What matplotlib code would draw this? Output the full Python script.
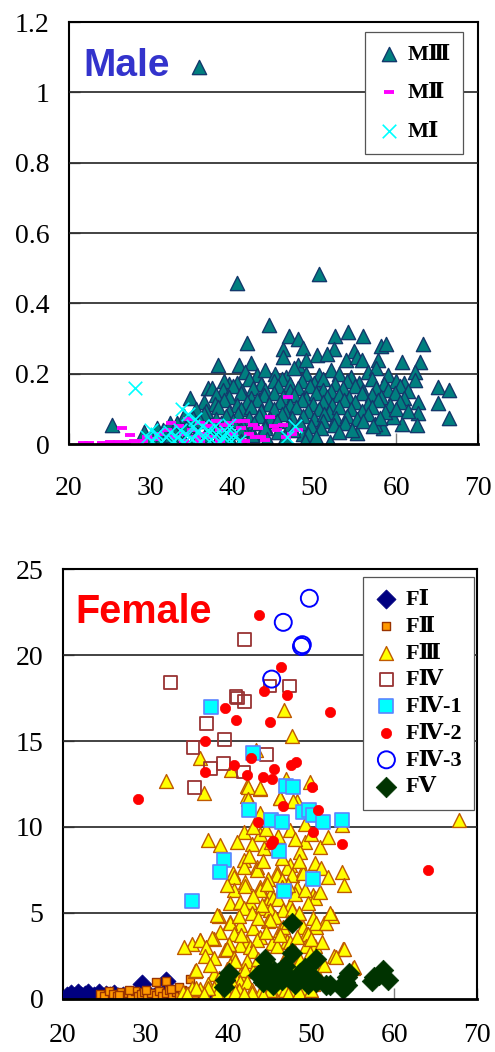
import matplotlib
matplotlib.use('Agg')
from matplotlib import pyplot as plt

# ------------------------------
# Data (age, value)
# ------------------------------

mIII_age = [35.9, 40.5, 50.6, 44.5, 41.7, 38.2, 40.8, 42.3, 46.1, 46.9, 48.0, 48.6, 52.5, 54.1, 56.0, 52.4, 54.9, 58.2, 58.8, 63.3,
            46.1, 50.3, 51.5, 53.9, 55.2, 55.8, 57.8, 60.7, 62.9, 48.0, 49.0, 62.3, 62.3, 65.1, 66.5, 65.1, 66.4, 62.7, 62.7, 62.5,
            60.7, 59.6, 58.4, 57.4, 55.2, 51.9, 48.6, 34.8, 37.0, 39.5, 25.3, 29.2, 30.7, 32.3,
            41.5, 43.0, 44.0, 45.2, 46.5, 47.5, 49.0, 50.5, 52.0, 53.0, 54.5, 56.5, 57.5, 59.0,
            39.0, 40.5, 42.0, 43.5, 45.0, 46.0, 47.0, 48.5, 50.0, 51.0, 52.5, 54.0, 55.5, 57.0, 58.5, 60.0, 61.0,
            37.5, 38.8, 40.0, 41.2, 42.5, 44.0, 45.5, 47.0, 48.0, 49.5, 51.0, 52.0, 53.5, 55.0, 56.0, 57.5, 59.0, 60.5, 61.5,
            38.0, 39.5, 41.0, 42.3, 43.8, 45.0, 46.2, 47.5, 49.0, 50.2, 51.5, 53.0, 54.2, 55.8, 57.0, 58.2, 59.8, 61.0,
            36.5, 37.8, 39.0, 40.5, 41.8, 43.0, 44.5, 45.8, 47.0, 48.5, 49.8, 51.0, 52.2, 53.6, 55.0, 56.5, 57.8, 59.2, 60.5,
            35.5, 36.8, 38.2, 39.5, 41.0, 42.2, 43.5, 45.0, 46.4, 47.8, 49.2, 50.5, 51.8, 53.0, 54.5, 55.8, 57.0, 58.6, 60.0, 61.4,
            34.0, 35.2, 36.5, 38.0, 39.2, 40.6, 42.0, 43.2, 44.6, 46.0, 47.2, 48.6, 50.0, 51.2, 52.6, 54.0, 55.2, 56.5, 58.0,
            33.2, 34.5, 36.0, 37.2, 38.6, 40.0, 41.2, 42.6, 44.0, 45.4, 47.0, 48.2, 49.6, 51.0, 52.4, 53.8, 56.0, 57.2,
            31.5, 33.0, 34.2, 35.6, 37.0, 38.4, 39.8, 41.0, 42.5, 44.0, 45.6, 47.4, 49.2, 50.8, 53.0, 54.6,
            30.0, 31.2, 32.5, 34.0, 35.4, 36.8, 38.2, 39.6, 41.0, 42.4, 44.2, 46.4, 48.8, 50.2]
mIII_val = [1.073, 0.459, 0.483, 0.338, 0.286, 0.225, 0.225, 0.230, 0.270, 0.307, 0.300, 0.272, 0.307, 0.318, 0.307, 0.270, 0.265, 0.280, 0.285, 0.285,
            0.248, 0.253, 0.257, 0.239, 0.248, 0.239, 0.239, 0.234, 0.234, 0.225, 0.240, 0.206, 0.182, 0.163, 0.154, 0.117, 0.073, 0.120, 0.087, 0.054,
            0.057, 0.078, 0.045, 0.057, 0.032, 0.007, 0.030, 0.130, 0.160, 0.170, 0.055, 0.035, 0.045, 0.060,
            0.205, 0.195, 0.210, 0.200, 0.190, 0.215, 0.200, 0.195, 0.210, 0.200, 0.190, 0.205, 0.215, 0.195,
            0.180, 0.175, 0.185, 0.170, 0.180, 0.185, 0.170, 0.180, 0.175, 0.185, 0.170, 0.180, 0.175, 0.185, 0.170, 0.180, 0.175,
            0.160, 0.155, 0.165, 0.150, 0.160, 0.155, 0.165, 0.150, 0.160, 0.165, 0.155, 0.150, 0.160, 0.165, 0.150, 0.160, 0.155, 0.165, 0.150,
            0.140, 0.135, 0.145, 0.130, 0.140, 0.145, 0.135, 0.140, 0.130, 0.145, 0.135, 0.140, 0.130, 0.145, 0.140, 0.135, 0.145, 0.130,
            0.120, 0.115, 0.125, 0.110, 0.120, 0.125, 0.115, 0.120, 0.110, 0.125, 0.115, 0.120, 0.110, 0.125, 0.120, 0.115, 0.125, 0.110, 0.120,
            0.100, 0.095, 0.105, 0.090, 0.100, 0.105, 0.095, 0.100, 0.090, 0.105, 0.095, 0.100, 0.090, 0.105, 0.100, 0.095, 0.105, 0.090, 0.100, 0.095,
            0.080, 0.075, 0.085, 0.070, 0.080, 0.085, 0.075, 0.080, 0.070, 0.085, 0.075, 0.080, 0.070, 0.085, 0.075, 0.080, 0.070, 0.085, 0.075,
            0.060, 0.055, 0.065, 0.050, 0.060, 0.065, 0.055, 0.060, 0.050, 0.065, 0.055, 0.060, 0.050, 0.065, 0.055, 0.060, 0.065, 0.050,
            0.040, 0.035, 0.045, 0.030, 0.040, 0.045, 0.035, 0.040, 0.030, 0.045, 0.035, 0.040, 0.030, 0.045, 0.035, 0.040,
            0.020, 0.015, 0.025, 0.010, 0.020, 0.025, 0.015, 0.020, 0.010, 0.025, 0.015, 0.020, 0.010, 0.020]

mII_age = [21.7, 22.5, 24.0, 25.0, 26.0, 27.0, 28.0, 29.0, 26.5, 27.5, 29.5, 30.5, 31.0, 32.0, 32.5, 33.0, 33.5, 34.0, 34.5, 35.0,
           35.5, 36.0, 36.5, 37.0, 37.5, 38.0, 38.5, 39.0, 39.5, 40.0, 40.5, 41.0, 41.5, 42.0, 42.5, 43.1, 43.5, 44.6, 45.0, 45.4,
           46.2, 46.5, 46.8, 47.2, 48.0, 44.0, 42.7, 41.5, 38.5, 36.0, 34.0]
mII_val = [0.003, 0.003, 0.003, 0.005, 0.006, 0.007, 0.008, 0.010, 0.045, 0.025, 0.020, 0.015, 0.030, 0.040, 0.060, 0.020, 0.050, 0.030, 0.070, 0.040,
           0.020, 0.060, 0.030, 0.050, 0.020, 0.065, 0.040, 0.055, 0.060, 0.030, 0.065, 0.045, 0.065, 0.030, 0.055, 0.045, 0.020, 0.076, 0.050, 0.041,
           0.055, 0.020, 0.133, 0.030, 0.040, 0.011, 0.020, 0.010, 0.010, 0.010, 0.008]

mI_age = [28.1, 46.6, 47.6, 33.8, 34.6, 35.4, 36.2, 39.6, 40.2, 40.8, 29.5, 30.2, 30.8, 31.2, 31.8, 32.3, 32.8, 33.2, 33.6, 34.0,
          34.4, 35.0, 35.6, 36.0, 36.6, 37.0, 37.4, 38.0, 38.4, 38.8, 39.2, 39.8, 37.8, 35.2, 30.0]
mI_val = [0.160, 0.020, 0.050, 0.100, 0.085, 0.070, 0.050, 0.055, 0.030, 0.010, 0.020, 0.010, 0.030, 0.005, 0.020, 0.035, 0.010, 0.020, 0.040, 0.005,
          0.025, 0.015, 0.035, 0.010, 0.020, 0.040, 0.015, 0.030, 0.005, 0.020, 0.035, 0.010, 0.050, 0.050, 0.040]

fI_age = [20.5, 21.0, 21.3, 21.8, 22.2, 22.6, 23.0, 23.4, 23.8, 24.3, 24.8, 25.2, 25.7, 26.2, 26.7, 27.2, 27.8, 28.3, 28.8, 29.5,
          29.3, 30.0, 30.5, 31.0, 31.6, 32.4, 32.2, 33.0, 33.6, 34.3, 35.0, 35.8, 36.5, 37.3, 38.0, 39.2, 39.5]
fI_val = [0.15, 0.30, 0.10, 0.35, 0.15, 0.25, 0.35, 0.10, 0.20, 0.35, 0.10, 0.25, 0.15, 0.30, 0.10, 0.20, 0.05, 0.15, 0.10, 0.85,
          0.25, 0.05, 0.20, 0.10, 0.15, 1.05, 0.05, 0.20, 0.05, 0.10, 0.05, 0.10, 0.00, 0.05, 0.02, 0.00, 0.05]

fII_age = [24.5, 25.0, 25.5, 26.0, 26.5, 27.0, 27.3, 27.8, 28.2, 28.7, 29.0, 29.4, 29.8, 30.2, 30.6, 31.2, 31.2, 31.6, 32.0, 32.4,
           32.4, 32.8, 33.2, 33.6, 34.0, 34.4, 34.8, 35.2, 35.3, 35.8, 36.2, 26.8, 28.0, 30.0, 33.0, 34.0]
fII_val = [0.30, 0.20, 0.45, 0.30, 0.20, 0.40, 0.15, 0.35, 0.25, 0.45, 0.15, 0.30, 0.40, 0.20, 0.35, 1.00, 0.25, 0.45, 0.20, 0.35,
           1.06, 0.50, 0.25, 0.40, 0.20, 0.55, 0.30, 0.45, 1.14, 0.25, 0.40, 0.25, 0.50, 0.50, 0.60, 0.70]

fIII_age = [67.8, 32.4, 46.7, 47.7, 36.5, 37.0, 43.3, 40.3, 42.2, 43.8, 49.8, 46.9, 48.2, 46.2, 42.2, 53.7, 49.2, 42.3, 43.8, 42.4,
            46.2, 47.8, 43.8, 45.5, 50.2,
            47.4, 49.2, 51.0, 41.8, 43.8, 37.5, 38.9, 41.0, 42.8, 44.3, 45.1, 48.6, 43.0, 44.5, 46.0, 48.0, 50.0, 52.0,
            41.8, 43.4, 45.8, 47.4, 49.0, 50.4, 53.7, 41.9, 43.4, 45.8, 47.0, 47.6, 49.0, 40.5, 42.5, 44.2, 46.5, 48.5, 51.2, 44.8,
            46.5, 52.0,
            53.9, 40.6, 42.0, 43.8, 45.0, 48.2, 50.2, 40.6, 40.2, 41.4, 44.6, 47.4, 42.0, 43.8, 44.6, 45.4, 48.0, 49.2, 50.4, 42.6,
            46.5, 47.2, 51.0, 39.8, 43.0, 46.0, 49.6,
            41.8, 44.0, 45.0, 46.6, 47.6, 38.8, 40.2, 41.4, 43.0, 44.8, 45.6, 46.2, 48.2, 50.2, 52.2, 52.5, 51.5, 50.6, 38.6, 40.2,
            41.3, 42.8, 44.0, 45.0, 46.6, 50.6, 51.8, 52.2, 43.5, 47.2, 49.0, 48.5,
            49.4, 47.0, 43.8, 42.2, 40.6, 39.0, 38.2, 36.6, 35.6, 34.6, 49.6, 36.5, 38.0, 39.6, 41.4, 42.6, 43.4, 45.2, 47.4, 45.8,
            49.4, 50.4, 53.8, 53.9, 44.6, 47.0, 43.0, 41.5, 44.5, 46.2, 48.3, 50.0, 51.3, 37.3, 40.0,
            37.1, 38.2, 39.8, 40.6, 42.2, 48.4, 52.7, 53.0, 49.8, 48.6, 55.0, 55.1, 36.0, 38.2, 39.8, 41.4, 43.0, 45.0, 46.6, 47.8,
            36.1, 37.8, 40.2, 42.0, 45.0, 46.4, 39.4, 41.4, 42.2, 46.9, 44.0, 38.8, 43.5, 40.8, 48.8, 50.5, 51.5,
            37.5, 35.6, 36.6, 38.2, 40.6, 41.2, 42.8, 44.6, 45.8, 46.8, 48.0, 49.0, 50.2, 43.8, 45.4, 39.8, 38.6, 36.1, 37.5, 40.8,
            42.8, 45.0, 47.8, 34.5, 35.0, 37.0, 41.8, 44.2, 47.2, 48.5, 50.0]
fIII_val = [10.4, 12.7, 16.8, 15.3, 14.0, 12.0, 14.5, 13.3, 12.4, 12.2, 12.6, 12.8, 11.5, 11.7, 11.8, 10.1, 10.2, 12.35, 12.25, 11.6,
            11.7, 11.5, 10.8, 10.4, 10.8,
            9.8, 9.15, 8.85, 9.7, 9.6, 9.25, 8.95, 9.15, 9.0, 8.76, 9.15, 8.57, 10.0, 9.9, 9.5, 9.3, 9.6, 9.4,
            8.08, 7.7, 7.4, 7.8, 7.5, 7.9, 7.4, 7.7, 7.5, 7.2, 7.6, 7.2, 7.3, 7.3, 8.3, 8.0, 8.2, 8.0, 7.6, 7.0,
            6.9, 7.1,
            6.63, 7.1, 6.8, 6.53, 6.05, 6.44, 6.05, 6.34, 5.56, 5.66, 5.56, 5.47, 6.55, 6.35, 6.7, 5.9, 6.1, 6.35, 5.85, 5.65,
            6.5, 6.6, 6.2, 6.6, 6.0, 5.8, 5.6,
            5.3, 5.3, 5.2, 5.15, 5.2, 4.8, 4.45, 4.3, 4.1, 4.55, 4.75, 4.0, 4.6, 4.7, 4.9, 4.8, 4.4, 4.2, 4.88, 4.4,
            4.8, 4.98, 5.47, 4.6, 4.2, 4.4, 4.4, 4.98, 4.7, 4.5, 4.2, 5.0,
            3.8, 3.4, 3.6, 3.3, 3.8, 3.9, 3.5, 3.45, 3.2, 3.0, 3.8, 3.43, 3.53, 2.85, 3.14, 3.04, 3.43, 3.24, 3.33, 3.1,
            3.1, 3.1, 2.9, 2.89, 2.5, 2.6, 2.8, 3.7, 3.9, 3.7, 3.6, 3.5, 3.3, 3.0, 3.2,
            2.5, 2.4, 2.9, 2.4, 2.2, 2.2, 2.5, 2.46, 2.66, 2.27, 1.8, 1.88, 1.65, 1.45, 1.75, 1.4, 1.6, 1.75, 2.1, 1.65,
            1.69, 1.98, 1.98, 1.69, 2.17, 1.49, 1.0, 1.0, 1.0, 1.15, 1.2, 1.2, 2.3, 2.2, 1.3, 1.6, 2.0,
            0.85, 0.65, 0.6, 0.65, 0.75, 0.5, 0.5, 0.6, 0.65, 0.5, 0.65, 0.6, 0.85, 0.35, 0.35, 0.35, 0.35, 0.62, 0.62, 0.43,
            0.37, 0.55, 0.55, 0.4, 0.3, 0.3, 0.3, 0.25, 0.3, 0.4, 0.5]

fIV_age = [41.9, 33.0, 47.4, 45.0, 40.9, 41.1, 41.9, 37.3, 39.5, 35.7, 44.6, 39.4, 37.8, 41.8, 35.9]
fIV_val = [20.9, 18.4, 18.2, 18.2, 17.6, 17.5, 17.3, 16.0, 15.1, 14.6, 14.2, 13.7, 13.4, 13.2, 12.3]

fIV1_age = [37.9, 43.0, 46.9, 47.8, 42.5, 45.1, 46.5, 49.0, 49.7, 50.2, 51.4, 53.7, 46.1, 39.4, 39.0, 50.2, 46.7, 35.6]
fIV1_val = [17.0, 14.3, 12.4, 12.3, 11.0, 10.4, 10.3, 10.9, 11.0, 10.7, 10.3, 10.4, 8.6, 8.1, 7.4, 7.0, 6.3, 5.7]

fIV2_age = [43.7, 46.3, 44.3, 47.0, 52.2, 39.6, 40.9, 45.0, 37.1, 37.1, 40.6, 42.7, 42.2, 44.2, 45.5, 45.2, 47.5, 48.1, 50.1, 46.6,
            50.8, 43.5, 50.2, 45.4, 45.1, 53.7, 64.1, 29.0]
fIV2_val = [22.3, 19.3, 17.9, 17.7, 16.7, 16.9, 16.2, 16.1, 15.0, 13.2, 13.6, 14.0, 13.0, 12.9, 13.4, 12.8, 13.6, 13.8, 12.3, 11.2,
            11.0, 10.3, 9.7, 9.2, 9.0, 9.0, 7.5, 11.6]

fIV3_age = [49.75, 46.6, 48.8, 48.9, 45.2]
fIV3_val = [23.3, 21.9, 20.5, 20.6, 18.6]

fV_age = [47.6, 47.6, 44.4, 50.6, 39.6, 39.4, 43.6, 44.5, 45.0, 45.4, 46.0, 46.8, 47.4, 48.0, 48.6, 49.2, 49.6, 50.2, 50.6, 51.8,
          52.3, 54.3, 54.3, 54.5, 54.0, 57.3, 57.5, 58.2, 58.7, 59.3, 44.2, 46.4, 45.5, 48.4, 53.8, 40.0]
fV_val = [4.4, 2.66, 2.3, 2.3, 1.1, 0.72, 1.4, 1.8, 1.1, 0.8, 1.5, 1.9, 1.2, 0.9, 1.5, 1.8, 0.9, 1.3, 1.0, 0.81,
          0.8, 1.3, 0.81, 1.5, 1.0, 1.05, 1.3, 1.4, 1.7, 1.1, 1.0, 1.1, 1.6, 1.2, 0.6, 1.5]

x_ticks = [20, 30, 40, 50, 60, 70]
male_yticks = [0, 0.2, 0.4, 0.6, 0.8, 1.0, 1.2]
male_ylabels = ['0', '0.2', '0.4', '0.6', '0.8', '1', '1.2']
female_yticks = [0, 5, 10, 15, 20, 25]

SERIF = ['Liberation Serif', 'DejaVu Serif', 'Noto Sans CJK JP']


def style_axes(ax, yticks, ylabels, ylim, xpad):
    ax.set_xlim(20, 70)
    ax.set_ylim(*ylim)
    ax.set_xticks(x_ticks)
    ax.set_xticklabels([str(t) for t in x_ticks], family=SERIF, fontsize=20)
    ax.set_yticks(yticks)
    ax.set_yticklabels(ylabels, family=SERIF, fontsize=20)
    ax.tick_params(axis='both', direction='in', length=8, width=1, color='#808080')
    ax.tick_params(axis='x', pad=xpad)
    ax.tick_params(axis='y', pad=14)
    for s in ax.spines.values():
        s.set_linewidth(1.5)
        s.set_color('black')
    ax.spines['bottom'].set_linewidth(2)
    ax.spines['bottom'].set_zorder(10)


def add_grid(ax, yticks):
    # horizontal grid lines, drawn last above any background artist but below the markers
    for t in yticks[1:-1]:
        ln = ax.axhline(t, color='#222222', lw=1.2, zorder=2.8)
        ln.set_snap(True)


def legend(ax, anchor, spacing):
    leg = ax.legend(loc='upper right', bbox_to_anchor=anchor, borderaxespad=0, fancybox=False,
                    framealpha=1, edgecolor='#555555', handlelength=1.0, handletextpad=0.35,
                    labelspacing=spacing, borderpad=0.55,
                    prop={'family': SERIF, 'weight': 'bold', 'size': 16})
    leg.get_frame().set_linewidth(0.9)
    leg.set_zorder(20)
    return leg


def main():

    fig = plt.figure(figsize=(4.95, 10.52), dpi=100)

    # ------------------------------
    # Male panel
    # ------------------------------
    ax = fig.add_axes([0.1394, 0.5779, 0.8263, 0.4011])
    style_axes(ax, male_yticks, male_ylabels, (0, 1.2), xpad=23)
    ax.scatter(mIII_age, mIII_val, marker='^', s=105, c='#007F7F', edgecolors='#13386B', linewidths=1.0,
               label='MⅢ', zorder=3)
    ax.scatter(mII_age, mII_val, marker='_', s=45, c='#FF00FF', linewidths=2.8, label='MⅡ', zorder=4)
    ax.scatter(mI_age, mI_val, marker='x', s=95, c='#00FFFF', linewidths=1.2, label='MⅠ', zorder=5)
    ax.text(0.034, 0.872, 'Male', transform=ax.transAxes, family='Liberation Sans', fontweight='bold',
            fontsize=28, color='#3333CC', va='baseline', ha='left')
    legend(ax, (0.963, 0.976), 0.8)
    add_grid(ax, male_yticks)
    ax.set_ylim(0, 1.2)

    # ------------------------------
    # Female panel
    # ------------------------------
    ax = fig.add_axes([0.1273, 0.0504, 0.8364, 0.4087])
    style_axes(ax, female_yticks, [str(t) for t in female_yticks], (0, 25), xpad=17)
    ax.scatter(fI_age, fI_val, marker='D', s=95, c='#000080', edgecolors='#000080', linewidths=0.5,
               label='FⅠ', zorder=3)
    ax.scatter(fII_age, fII_val, marker='s', s=30, c='#FF9900', edgecolors='#993300', linewidths=1.0,
               label='FⅡ', zorder=4)
    ax.scatter(fIII_age, fIII_val, marker='^', s=100, c='#FFFF00', edgecolors='#C05A00', linewidths=1.0,
               label='FⅢ', zorder=5)
    ax.scatter(fIV_age, fIV_val, marker='s', s=85, facecolors='none', edgecolors='#993333', linewidths=1.3,
               label='FⅣ', zorder=6)
    ax.scatter(fIV1_age, fIV1_val, marker='s', s=95, c='#00FFFF', edgecolors='#5B84FF', linewidths=1.2,
               label='FⅣ-1', zorder=7)
    ax.scatter(fIV2_age, fIV2_val, marker='o', s=55, c='#FF0000', edgecolors='#FF0000', linewidths=0.5,
               label='FⅣ-2', zorder=8)
    ax.scatter(fIV3_age, fIV3_val, marker='o', s=150, facecolors='none', edgecolors='#0000FF', linewidths=1.4,
               label='FⅣ-3', zorder=9)
    ax.scatter(fV_age, fV_val, marker='D', s=110, c='#003300', edgecolors='#003300', linewidths=0.5,
               label='FⅤ', zorder=8)
    ax.text(0.031, 0.874, 'Female', transform=ax.transAxes, family='Liberation Sans', fontweight='bold',
            fontsize=28.5, color='#FF0000', va='baseline', ha='left')
    legend(ax, (0.993, 0.981), 0.28)
    add_grid(ax, female_yticks)

    fig.savefig('out.png', dpi=100)


if __name__ == '__main__':
    main()
